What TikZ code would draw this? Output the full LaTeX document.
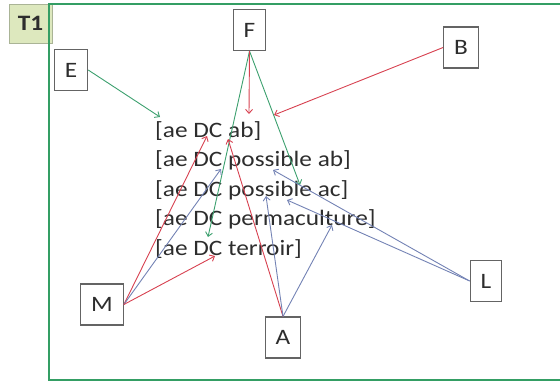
\documentclass[tikz,border=0pt]{standalone}
\usepackage{fontspec}
\setmainfont[FakeStretch=1.15]{Carlito}
\usetikzlibrary{arrows.meta, positioning}

\begin{document}
\begin{tikzpicture}[x=1pt, y=-1pt,
    every node/.style={font=\fontsize{22}{26}\selectfont, text=txtgray},
    letterbox/.style={draw=boxgray, fill=white, line width=1.1pt,
      inner xsep=10.5pt, inner ysep=0pt, minimum height=41pt},
    link/.style={-{Straight Barb[length=4pt, width=7pt]}, line width=0.9pt},
  ]
  \definecolor{framegreen}{RGB}{52,158,100}
  \definecolor{t1fill}{RGB}{221,232,190}
  \definecolor{t1border}{RGB}{170,180,150}
  \definecolor{boxgray}{RGB}{100,100,100}
  \definecolor{txtgray}{RGB}{45,45,45}
  \definecolor{lgreen}{RGB}{60,160,110}
  \definecolor{lred}{RGB}{215,65,80}
  \definecolor{lblue}{RGB}{115,130,180}

  \clip (0,0) rectangle (560,383);

  % tab and frame
  \node[draw=t1border, fill=t1fill, minimum width=43pt, minimum height=39pt,
    inner sep=0pt, font=\fontsize{22}{26}\selectfont\bfseries] (t1) at (30.5,23.5) {T1};
  \draw[framegreen, line width=2.6pt] (49,4) rectangle (575,380);

  % the five lines of the list
  \foreach \txt [count=\i] in {{[ae DC ab]}, {[ae DC possible ab]},
      {[ae DC possible ac]}, {[ae DC permaculture]}, {[ae DC terroir]}} {
    \node[anchor=west, inner sep=0pt] (line\i) at (155, {131+(\i-1)*29.5}) {\txt};
  }

  % letter boxes
  \node[letterbox] (F) at (249.5,30) {F};
  \node[letterbox] (E) at (71,70) {E};
  \node[letterbox] (B) at (461,47.5) {B};
  \node[letterbox] (M) at (102,304.5) {M};
  \node[letterbox] (A) at (283,337.5) {A};
  \node[letterbox] (L) at (486,281) {L};

  % arrow ends inside the list
  \coordinate (e1) at (160,117);
  \coordinate (f1) at (249,114);
  \coordinate (f2) at (208,237);
  \coordinate (f3) at (300,185);
  \coordinate (b1) at (274,115);
  \coordinate (m1) at (207,136);
  \coordinate (m2) at (221,169);
  \coordinate (m3) at (215,256);
  \coordinate (a1) at (228,139);
  \coordinate (a2) at (266,196);
  \coordinate (a3) at (332,225);
  \coordinate (l1) at (273,170);
  \coordinate (l2) at (287,200);

  \draw[link, lgreen] (E.east) -- (e1);
  \draw[link, lgreen] (F.south) -- (f2);
  \draw[link, lgreen] (F.south) -- (f3);
  \draw[link, lred] (F.south) -- (f1);
  \draw[link, lred] (B.west) -- (b1);
  \draw[link, lred] (M.east) -- (m1);
  \draw[link, lblue] (M.east) -- (m2);
  \draw[link, lred] (M.east) -- (m3);
  \draw[link, lred] (A.north) -- (a1);
  \draw[link, lblue] (A.north) -- (a2);
  \draw[link, lblue] (A.north) -- (a3);
  \draw[link, lblue] (L.west) -- (l1);
  \draw[link, lblue] (L.west) -- (l2);
\end{tikzpicture}
\end{document}
